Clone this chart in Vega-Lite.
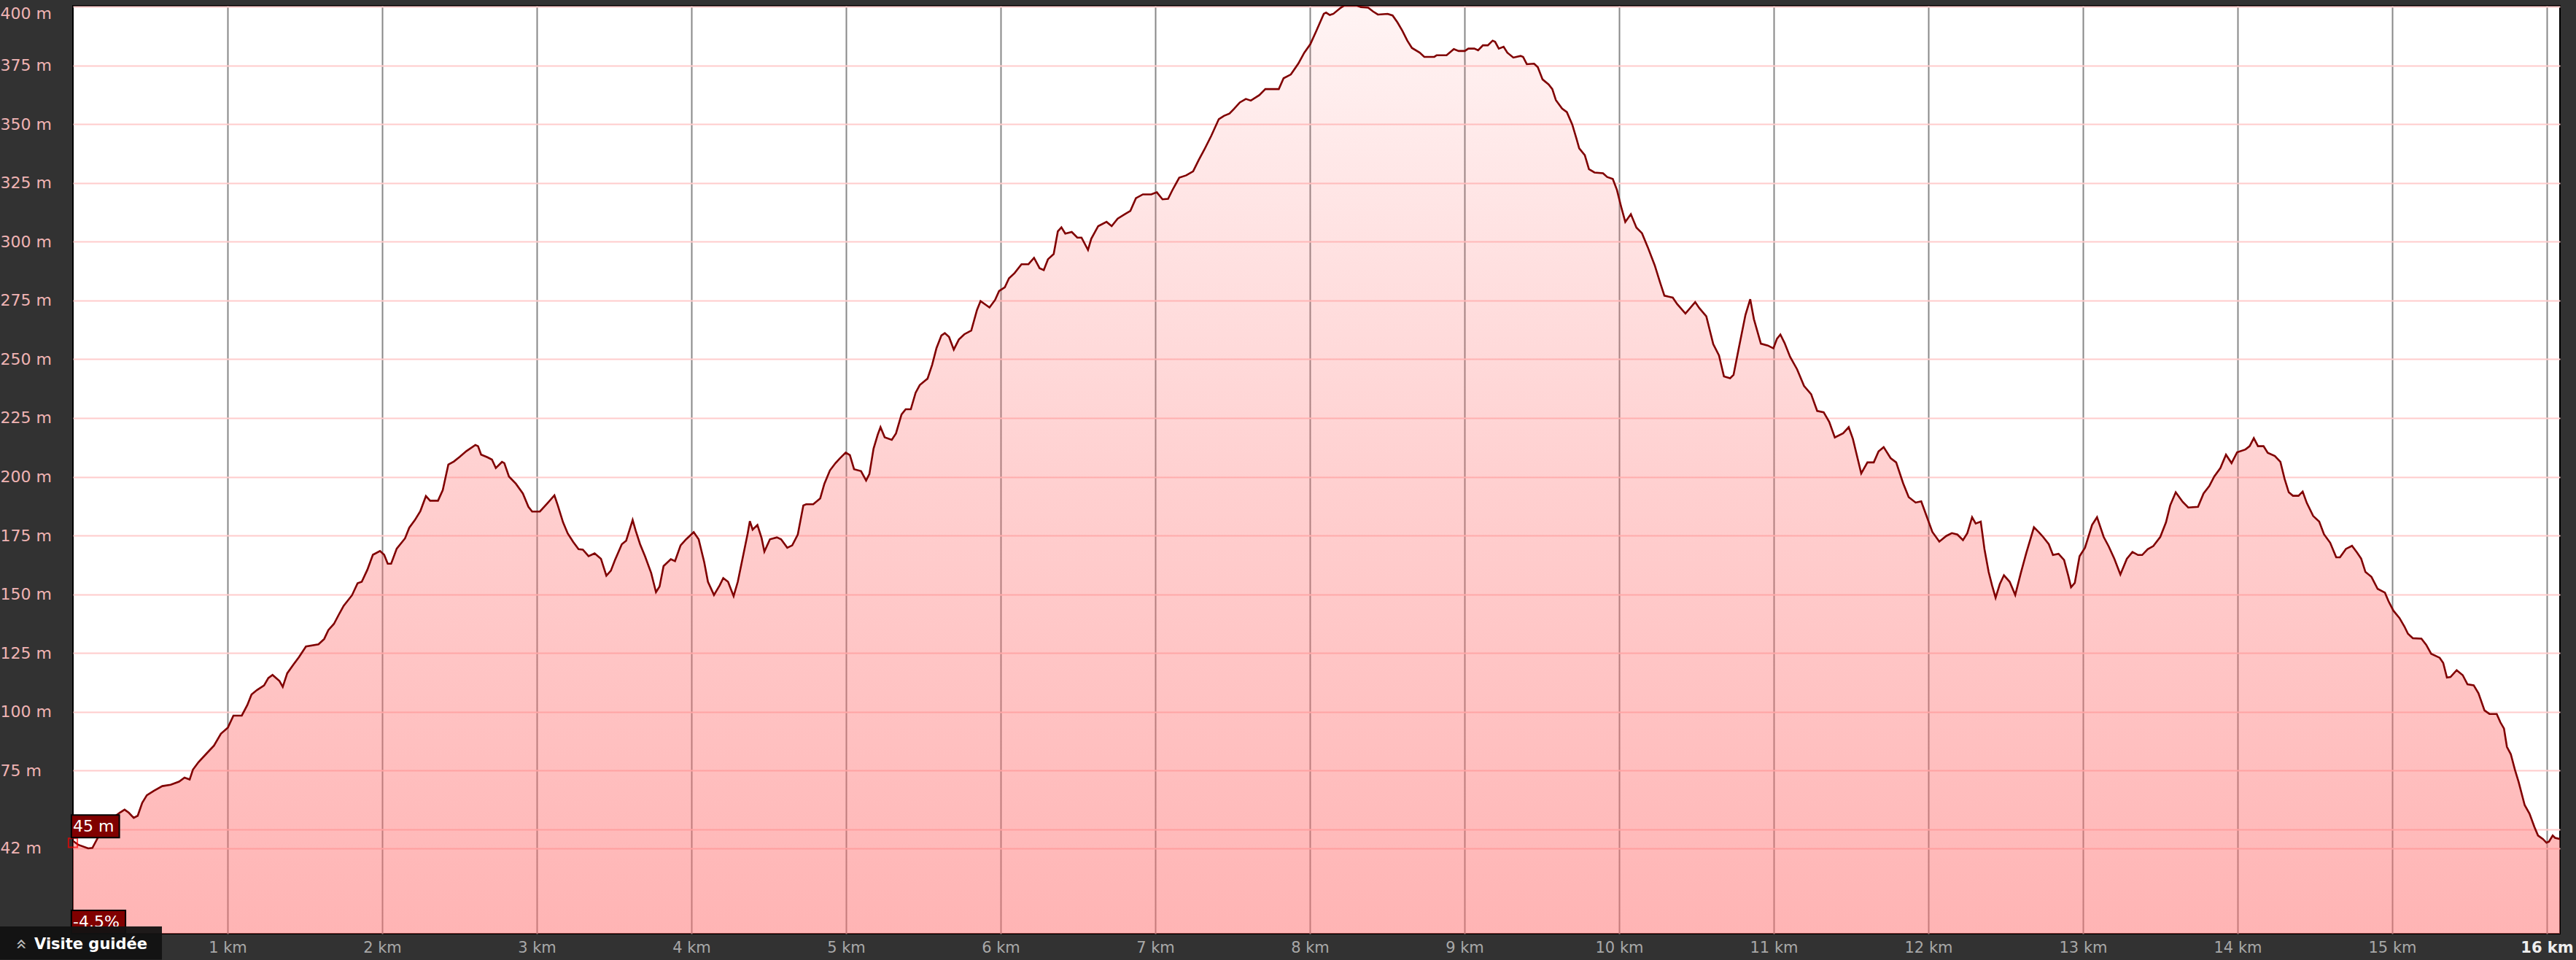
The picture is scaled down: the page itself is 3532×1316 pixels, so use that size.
{
  "$schema": "https://vega.github.io/schema/vega-lite/v6.json",
  "width": 3410,
  "height": 1272,
  "autosize": {"type": "none"},
  "padding": {"left": 100, "top": 8, "right": 22, "bottom": 36},
  "background": "#323232",
  "config": {
    "view": {"stroke": "#000000", "strokeWidth": 2, "fill": "#ffffff"},
    "font": "DejaVu Sans"
  },
  "datasets": {
    "one": [{}],
    "profile": [
      {"km":0,"ele":45.1},{"km":0.036,"ele":43.4},{"km":0.099,"ele":41.9},{"km":0.126,"ele":42.1},{"km":0.162,"ele":46.6},
      {"km":0.22,"ele":51.5},{"km":0.27,"ele":55.5},{"km":0.303,"ele":57.1},{"km":0.334,"ele":58.4},{"km":0.361,"ele":57.1},
      {"km":0.393,"ele":54.9},{"km":0.419,"ele":55.8},{"km":0.448,"ele":61.3},{"km":0.478,"ele":64.5},{"km":0.523,"ele":66.4},
      {"km":0.578,"ele":68.4},{"km":0.632,"ele":69.0},{"km":0.686,"ele":70.3},{"km":0.722,"ele":72.0},{"km":0.755,"ele":71.2},
      {"km":0.776,"ele":75.4},{"km":0.812,"ele":78.6},{"km":0.866,"ele":82.4},{"km":0.912,"ele":85.6},{"km":0.957,"ele":90.7},
      {"km":1.002,"ele":93.3},{"km":1.038,"ele":98.4},{"km":1.092,"ele":98.4},{"km":1.128,"ele":102.9},{"km":1.155,"ele":107.4},
      {"km":1.191,"ele":109.3},{"km":1.236,"ele":111.2},{"km":1.264,"ele":114.4},{"km":1.291,"ele":115.7},{"km":1.336,"ele":113.1},
      {"km":1.357,"ele":110.6},{"km":1.386,"ele":116.4},{"km":1.426,"ele":120.1},{"km":1.462,"ele":123.3},{"km":1.507,"ele":127.8},
      {"km":1.588,"ele":128.7},{"km":1.625,"ele":131.0},{"km":1.652,"ele":134.8},{"km":1.688,"ele":137.4},{"km":1.724,"ele":141.9},
      {"km":1.751,"ele":145.1},{"km":1.805,"ele":149.6},{"km":1.841,"ele":154.7},{"km":1.868,"ele":155.3},{"km":1.904,"ele":160.4},
      {"km":1.94,"ele":166.8},{"km":1.986,"ele":168.4},{"km":2.013,"ele":166.8},{"km":2.036,"ele":163.0},{"km":2.058,"ele":163.0},
      {"km":2.094,"ele":169.4},{"km":2.148,"ele":173.8},{"km":2.175,"ele":178.3},{"km":2.211,"ele":181.5},{"km":2.247,"ele":185.4},
      {"km":2.283,"ele":191.8},{"km":2.31,"ele":189.8},{"km":2.361,"ele":189.8},{"km":2.392,"ele":194.3},{"km":2.428,"ele":205.2},
      {"km":2.464,"ele":206.5},{"km":2.5,"ele":208.4},{"km":2.545,"ele":210.9},{"km":2.603,"ele":213.5},{"km":2.62,"ele":213.0},
      {"km":2.64,"ele":209.4},{"km":2.68,"ele":208.3},{"km":2.71,"ele":207.3},{"km":2.735,"ele":203.7},{"km":2.775,"ele":206.3},
      {"km":2.79,"ele":205.8},{"km":2.82,"ele":200.1},{"km":2.865,"ele":197.0},{"km":2.91,"ele":192.9},{"km":2.946,"ele":187.2},
      {"km":2.97,"ele":185.2},{"km":3.02,"ele":185.2},{"km":3.07,"ele":188.8},{"km":3.114,"ele":192.1},{"km":3.136,"ele":187.8},
      {"km":3.17,"ele":180.6},{"km":3.2,"ele":175.9},{"km":3.235,"ele":172.3},{"km":3.27,"ele":169.2},{"km":3.298,"ele":169.0},
      {"km":3.335,"ele":166.2},{"km":3.374,"ele":167.4},{"km":3.415,"ele":165.1},{"km":3.45,"ele":157.9},{"km":3.479,"ele":160.0},
      {"km":3.506,"ele":164.6},{"km":3.55,"ele":171.3},{"km":3.578,"ele":172.8},{"km":3.62,"ele":181.6},{"km":3.64,"ele":177.0},
      {"km":3.668,"ele":171.3},{"km":3.7,"ele":166.2},{"km":3.74,"ele":159.0},{"km":3.771,"ele":150.9},{"km":3.794,"ele":153.3},
      {"km":3.82,"ele":162.0},{"km":3.867,"ele":164.9},{"km":3.894,"ele":164.1},{"km":3.93,"ele":170.8},{"km":3.966,"ele":173.4},
      {"km":4.015,"ele":176.4},{"km":4.047,"ele":173.4},{"km":4.083,"ele":163.6},{"km":4.107,"ele":155.3},{"km":4.146,"ele":149.7},
      {"km":4.183,"ele":153.8},{"km":4.206,"ele":156.9},{"km":4.237,"ele":155.3},{"km":4.273,"ele":149.2},{"km":4.3,"ele":155.3},
      {"km":4.337,"ele":167.2},{"km":4.364,"ele":175.9},{"km":4.378,"ele":181.1},{"km":4.396,"ele":177.5},{"km":4.427,"ele":179.5},
      {"km":4.454,"ele":173.9},{"km":4.472,"ele":168.2},{"km":4.508,"ele":173.4},{"km":4.553,"ele":174.2},{"km":4.58,"ele":173.4},
      {"km":4.62,"ele":169.8},{"km":4.652,"ele":170.8},{"km":4.688,"ele":175.4},{"km":4.724,"ele":187.8},{"km":4.742,"ele":188.3},
      {"km":4.788,"ele":188.3},{"km":4.833,"ele":190.8},{"km":4.86,"ele":197.0},{"km":4.896,"ele":202.7},{"km":4.932,"ele":205.8},
      {"km":4.96,"ele":207.8},{"km":4.998,"ele":210.3},{"km":5.025,"ele":209.2},{"km":5.052,"ele":203.2},{"km":5.097,"ele":202.4},
      {"km":5.13,"ele":198.4},{"km":5.151,"ele":201.1},{"km":5.178,"ele":211.9},{"km":5.205,"ele":217.9},{"km":5.223,"ele":221.1},
      {"km":5.25,"ele":216.8},{"km":5.296,"ele":215.7},{"km":5.323,"ele":218.4},{"km":5.359,"ele":226.5},{"km":5.386,"ele":228.7},
      {"km":5.419,"ele":228.7},{"km":5.45,"ele":235.7},{"km":5.477,"ele":239.0},{"km":5.527,"ele":241.7},{"km":5.557,"ele":247.6},
      {"km":5.585,"ele":254.7},{"km":5.617,"ele":260.1},{"km":5.639,"ele":261.1},{"km":5.666,"ele":259.5},{"km":5.697,"ele":254.1},
      {"km":5.73,"ele":258.4},{"km":5.765,"ele":260.6},{"km":5.81,"ele":262.2},{"km":5.847,"ele":270.9},{"km":5.87,"ele":274.7},
      {"km":5.928,"ele":272.0},{"km":5.964,"ele":275.2},{"km":5.99,"ele":279.0},{"km":6.027,"ele":280.6},{"km":6.054,"ele":284.4},
      {"km":6.09,"ele":286.6},{"km":6.135,"ele":290.4},{"km":6.18,"ele":290.4},{"km":6.216,"ele":293.1},{"km":6.252,"ele":288.7},
      {"km":6.279,"ele":287.9},{"km":6.306,"ele":292.5},{"km":6.343,"ele":294.7},{"km":6.37,"ele":304.4},{"km":6.393,"ele":306.1},
      {"km":6.418,"ele":303.4},{"km":6.46,"ele":304.1},{"km":6.496,"ele":301.7},{"km":6.523,"ele":301.7},{"km":6.565,"ele":296.5},
      {"km":6.586,"ele":301.2},{"km":6.631,"ele":306.6},{"km":6.685,"ele":308.4},{"km":6.718,"ele":306.6},{"km":6.757,"ele":309.8},
      {"km":6.803,"ele":311.7},{"km":6.839,"ele":313.1},{"km":6.875,"ele":318.5},{"km":6.92,"ele":320.1},{"km":6.974,"ele":320.1},
      {"km":7.01,"ele":321.0},{"km":7.047,"ele":318.0},{"km":7.083,"ele":318.2},{"km":7.11,"ele":321.8},{"km":7.155,"ele":327.2},
      {"km":7.2,"ele":328.2},{"km":7.245,"ele":329.9},{"km":7.281,"ele":334.7},{"km":7.317,"ele":339.1},{"km":7.362,"ele":345.0},
      {"km":7.411,"ele":352.1},{"km":7.444,"ele":353.5},{"km":7.48,"ele":354.5},{"km":7.51,"ele":356.5},{"km":7.547,"ele":359.2},
      {"km":7.586,"ele":360.7},{"km":7.618,"ele":360.0},{"km":7.673,"ele":362.3},{"km":7.712,"ele":364.9},{"km":7.799,"ele":364.9},
      {"km":7.83,"ele":369.5},{"km":7.877,"ele":371.1},{"km":7.925,"ele":375.7},{"km":7.964,"ele":380.4},{"km":8.003,"ele":384.0},
      {"km":8.042,"ele":389.7},{"km":8.09,"ele":396.9},{"km":8.105,"ele":397.4},{"km":8.129,"ele":396.4},{"km":8.152,"ele":396.9},
      {"km":8.2,"ele":399.5},{"km":8.223,"ele":400.5},{"km":8.3,"ele":400.5},{"km":8.33,"ele":399.8},{"km":8.377,"ele":399.5},
      {"km":8.409,"ele":397.9},{"km":8.44,"ele":396.6},{"km":8.503,"ele":396.9},{"km":8.535,"ele":396.2},{"km":8.566,"ele":393.3},
      {"km":8.598,"ele":389.7},{"km":8.63,"ele":385.5},{"km":8.66,"ele":382.4},{"km":8.71,"ele":380.4},{"km":8.74,"ele":378.6},
      {"km":8.805,"ele":378.6},{"km":8.82,"ele":379.3},{"km":8.884,"ele":379.3},{"km":8.931,"ele":381.9},{"km":8.962,"ele":381.1},
      {"km":9.002,"ele":381.1},{"km":9.025,"ele":382.1},{"km":9.064,"ele":382.1},{"km":9.088,"ele":381.4},{"km":9.119,"ele":383.5},
      {"km":9.151,"ele":383.5},{"km":9.182,"ele":385.5},{"km":9.198,"ele":385.0},{"km":9.222,"ele":382.1},{"km":9.253,"ele":382.9},
      {"km":9.277,"ele":380.4},{"km":9.316,"ele":378.3},{"km":9.363,"ele":379.0},{"km":9.379,"ele":378.6},{"km":9.403,"ele":375.5},
      {"km":9.45,"ele":375.7},{"km":9.474,"ele":374.2},{"km":9.505,"ele":369.0},{"km":9.544,"ele":366.9},{"km":9.568,"ele":364.9},
      {"km":9.591,"ele":360.2},{"km":9.631,"ele":356.6},{"km":9.662,"ele":355.1},{"km":9.697,"ele":349.8},{"km":9.724,"ele":343.9},
      {"km":9.742,"ele":339.7},{"km":9.778,"ele":336.8},{"km":9.805,"ele":330.8},{"km":9.841,"ele":329.4},{"km":9.896,"ele":329.1},
      {"km":9.923,"ele":327.5},{"km":9.959,"ele":326.7},{"km":9.986,"ele":322.0},{"km":10.013,"ele":314.9},{"km":10.04,"ele":308.4},
      {"km":10.076,"ele":311.7},{"km":10.112,"ele":306.0},{"km":10.148,"ele":303.6},{"km":10.185,"ele":297.7},{"km":10.23,"ele":290.0},
      {"km":10.266,"ele":282.4},{"km":10.293,"ele":277.0},{"km":10.347,"ele":276.2},{"km":10.375,"ele":273.5},{"km":10.429,"ele":269.4},
      {"km":10.492,"ele":274.3},{"km":10.519,"ele":271.7},{"km":10.564,"ele":268.2},{"km":10.609,"ele":256.4},{"km":10.646,"ele":251.6},
      {"km":10.678,"ele":242.7},{"km":10.718,"ele":241.9},{"km":10.74,"ele":243.3},{"km":10.772,"ele":254.0},{"km":10.817,"ele":268.8},
      {"km":10.848,"ele":275.5},{"km":10.872,"ele":267.0},{"km":10.917,"ele":256.6},{"km":10.962,"ele":255.8},{"km":10.998,"ele":254.6},
      {"km":11.021,"ele":258.7},{"km":11.043,"ele":260.5},{"km":11.07,"ele":256.9},{"km":11.106,"ele":251.0},{"km":11.151,"ele":245.7},
      {"km":11.196,"ele":238.6},{"km":11.242,"ele":235.1},{"km":11.281,"ele":228.0},{"km":11.323,"ele":227.4},{"km":11.359,"ele":223.3},
      {"km":11.395,"ele":216.7},{"km":11.449,"ele":218.5},{"km":11.485,"ele":221.1},{"km":11.512,"ele":216.1},{"km":11.566,"ele":201.4},
      {"km":11.606,"ele":206.1},{"km":11.647,"ele":206.1},{"km":11.678,"ele":210.8},{"km":11.711,"ele":212.6},{"km":11.756,"ele":207.9},
      {"km":11.792,"ele":206.1},{"km":11.837,"ele":197.2},{"km":11.873,"ele":191.3},{"km":11.918,"ele":189.0},{"km":11.954,"ele":189.5},
      {"km":11.99,"ele":183.0},{"km":12.026,"ele":176.5},{"km":12.071,"ele":172.4},{"km":12.116,"ele":174.8},{"km":12.152,"ele":176.0},
      {"km":12.188,"ele":175.4},{"km":12.224,"ele":173.0},{"km":12.252,"ele":176.0},{"km":12.283,"ele":182.8},{"km":12.306,"ele":180.1},
      {"km":12.339,"ele":180.9},{"km":12.363,"ele":169.2},{"km":12.39,"ele":159.5},{"km":12.412,"ele":153.8},{"km":12.435,"ele":148.5},
      {"km":12.462,"ele":154.3},{"km":12.489,"ele":158.1},{"km":12.526,"ele":155.3},{"km":12.562,"ele":149.7},{"km":12.598,"ele":159.0},
      {"km":12.634,"ele":167.7},{"km":12.683,"ele":178.5},{"km":12.715,"ele":176.4},{"km":12.742,"ele":174.4},{"km":12.779,"ele":171.3},
      {"km":12.806,"ele":166.7},{"km":12.842,"ele":167.2},{"km":12.878,"ele":164.6},{"km":12.905,"ele":157.9},{"km":12.923,"ele":153.0},
      {"km":12.947,"ele":154.8},{"km":12.978,"ele":166.2},{"km":13.013,"ele":169.8},{"km":13.059,"ele":179.5},{"km":13.091,"ele":182.8},
      {"km":13.134,"ele":174.4},{"km":13.167,"ele":170.3},{"km":13.203,"ele":165.1},{"km":13.242,"ele":158.4},{"km":13.284,"ele":165.1},
      {"km":13.32,"ele":168.0},{"km":13.356,"ele":166.7},{"km":13.383,"ele":166.7},{"km":13.419,"ele":169.2},{"km":13.455,"ele":170.5},
      {"km":13.5,"ele":174.4},{"km":13.537,"ele":180.6},{"km":13.564,"ele":187.8},{"km":13.6,"ele":193.4},{"km":13.645,"ele":189.3},
      {"km":13.681,"ele":186.9},{"km":13.744,"ele":187.2},{"km":13.78,"ele":192.9},{"km":13.817,"ele":196.0},{"km":13.849,"ele":200.1},
      {"km":13.889,"ele":203.7},{"km":13.925,"ele":209.4},{"km":13.961,"ele":205.8},{"km":13.997,"ele":210.4},{"km":14.051,"ele":211.6},
      {"km":14.078,"ele":213.0},{"km":14.105,"ele":216.4},{"km":14.132,"ele":213.0},{"km":14.168,"ele":213.0},{"km":14.195,"ele":210.2},
      {"km":14.241,"ele":208.8},{"km":14.277,"ele":206.3},{"km":14.304,"ele":199.1},{"km":14.331,"ele":193.4},{"km":14.358,"ele":191.9},
      {"km":14.394,"ele":191.9},{"km":14.421,"ele":193.7},{"km":14.448,"ele":188.8},{"km":14.489,"ele":183.3},{"km":14.528,"ele":180.9},
      {"km":14.559,"ele":175.5},{"km":14.599,"ele":171.9},{"km":14.638,"ele":165.7},{"km":14.662,"ele":165.7},{"km":14.701,"ele":169.3},
      {"km":14.74,"ele":170.6},{"km":14.772,"ele":167.8},{"km":14.799,"ele":165.2},{"km":14.827,"ele":159.5},{"km":14.866,"ele":157.4},
      {"km":14.906,"ele":152.3},{"km":14.953,"ele":150.7},{"km":14.976,"ele":147.1},{"km":15.008,"ele":143.0},{"km":15.047,"ele":139.9},
      {"km":15.079,"ele":136.3},{"km":15.102,"ele":133.2},{"km":15.134,"ele":131.3},{"km":15.189,"ele":131.1},{"km":15.22,"ele":128.5},
      {"km":15.252,"ele":124.7},{"km":15.307,"ele":123.0},{"km":15.33,"ele":120.8},{"km":15.354,"ele":114.6},{"km":15.377,"ele":114.8},
      {"km":15.417,"ele":117.7},{"km":15.456,"ele":115.6},{"km":15.487,"ele":111.7},{"km":15.527,"ele":111.3},{"km":15.558,"ele":107.9},
      {"km":15.597,"ele":100.6},{"km":15.629,"ele":99.1},{"km":15.676,"ele":99.1},{"km":15.7,"ele":95.5},{"km":15.723,"ele":92.9},
      {"km":15.742,"ele":85.1},{"km":15.767,"ele":82.0},{"km":15.794,"ele":75.3},{"km":15.818,"ele":70.1},{"km":15.857,"ele":60.3},
      {"km":15.888,"ele":56.7},{"km":15.92,"ele":51.0},{"km":15.943,"ele":47.4},{"km":15.975,"ele":45.9},{"km":15.998,"ele":44.3},
      {"km":16.014,"ele":44.8},{"km":16.038,"ele":47.4},{"km":16.053,"ele":46.4},{"km":16.085,"ele":45.9}
    ]
  },
  "layer": [
    {
      "data": {"name": "profile"},
      "mark": {
        "type": "area",
        "clip": true,
        "interpolate": "linear",
        "fill": {
          "gradient": "linear",
          "x1": 0, "y1": 0, "x2": 0, "y2": 1,
          "stops": [
            {"offset": 0, "color": "rgba(255,110,110,0.08)"},
            {"offset": 0.5, "color": "rgba(255,110,110,0.32)"},
            {"offset": 1, "color": "rgba(255,110,110,0.52)"}
          ]
        }
      },
      "encoding": {
        "x": {
          "field": "km", "type": "quantitative",
          "scale": {"domain": [0, 16.085], "nice": false, "zero": false},
          "axis": {
            "title": null,
            "values": [1,2,3,4,5,6,7,8,9,10,11,12,13,14,15,16],
            "labelExpr": "datum.value + ' km'",
            "domain": false,
            "ticks": false,
            "tickSize": 0,
            "labelPadding": 8,
            "labelFontSize": 21,
            "labelColor": {"expr": "datum.value == 16 ? '#eeeeee' : '#a8a8a8'"},
            "labelFontWeight": {"expr": "datum.value == 16 ? 'bold' : 'normal'"},
            "labelBaseline": "top",
            "gridColor": "#888888",
            "gridWidth": 2,
            "gridOpacity": 1
          }
        },
        "y": {
          "field": "ele", "type": "quantitative",
          "scale": {"domain": [5.6, 400.3], "nice": false, "zero": false},
          "axis": {
            "title": null,
            "values": [42,50,75,100,125,150,175,200,225,250,275,300,325,350,375,400],
            "labelExpr": "datum.value == 50 ? '' : datum.value + ' m'",
            "domain": false,
            "ticks": false,
            "tickSize": 0,
            "labelAlign": "left",
            "labelPadding": 100,
            "labelFontSize": 22,
            "labelColor": "#f0b4b4",
            "labelFlush": true,
            "gridColor": "#ffcccc",
            "gridWidth": 2,
            "gridOpacity": 1
          }
        }
      }
    },
    {
      "data": {"name": "profile"},
      "mark": {"type": "line", "clip": true, "color": "#800000", "strokeWidth": 2.6, "interpolate": "linear"},
      "encoding": {
        "x": {"field": "km", "type": "quantitative"},
        "y": {"field": "ele", "type": "quantitative"}
      }
    },
    {
      "data": {"name": "one"},
      "mark": {"type": "point", "shape": "square", "filled": false, "color": "#ff0000", "strokeWidth": 2, "size": 150},
      "encoding": {"x": {"datum": 0}, "y": {"datum": 44.3}}
    },
    {
      "data": {"name": "one"},
      "mark": {"type": "rect", "fill": "#800000", "stroke": "#000000", "strokeWidth": 2},
      "encoding": {"x": {"datum": -0.01}, "x2": {"datum": 0.3}, "y": {"datum": 56.1}, "y2": {"datum": 46.5}}
    },
    {
      "data": {"name": "one"},
      "mark": {"type": "text", "text": "45 m", "align": "left", "baseline": "middle", "fontSize": 22, "color": "#ffffff"},
      "encoding": {"x": {"datum": 0.0}, "y": {"datum": 51.2}}
    },
    {
      "data": {"name": "one"},
      "mark": {"type": "rect", "fill": "#800000", "stroke": "#000000", "strokeWidth": 2},
      "encoding": {"x": {"datum": -0.01}, "x2": {"datum": 0.34}, "y": {"datum": 15.5}, "y2": {"datum": 5.6}}
    },
    {
      "data": {"name": "one"},
      "mark": {"type": "text", "text": "-4.5%", "align": "left", "baseline": "middle", "fontSize": 22, "color": "#ffffff"},
      "encoding": {"x": {"datum": 0.0}, "y": {"datum": 10.6}}
    },
    {
      "data": {"name": "one"},
      "mark": {"type": "rect", "fill": "#121212", "opacity": 0.95},
      "encoding": {"x": {"datum": -0.4717}, "x2": {"datum": 0.5755}, "y": {"datum": 8.7}, "y2": {"datum": -5.4}}
    },
    {
      "data": {"name": "one"},
      "mark": {"type": "text", "text": "»", "align": "center", "baseline": "middle", "fontSize": 26, "angle": 270, "color": "#bbbbbb"},
      "encoding": {"x": {"datum": -0.335}, "y": {"datum": 1.2}}
    },
    {
      "data": {"name": "one"},
      "mark": {"type": "text", "text": "Visite guidée", "align": "left", "baseline": "middle", "fontSize": 21, "fontWeight": "bold", "color": "#ffffff"},
      "encoding": {"x": {"datum": -0.25}, "y": {"datum": 1.0}}
    }
  ]
}
